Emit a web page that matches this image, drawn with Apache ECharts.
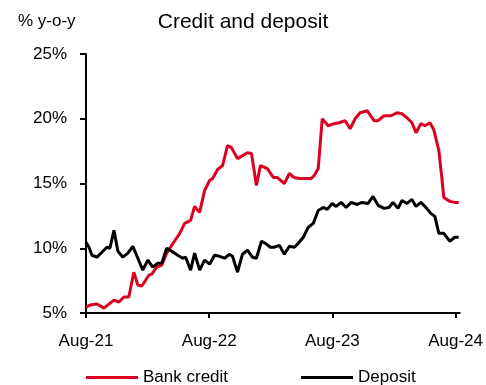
<!DOCTYPE html>
<html><head><meta charset="utf-8">
<script src="https://cdn.jsdelivr.net/npm/echarts@6/dist/echarts.min.js"></script>
<style>html,body{margin:0;padding:0;background:#fff}#c{width:486px;height:385px}</style>
</head><body><div id="c"></div>
<script>
// x = months since Aug-21
var tickLabels = {0:'Aug-21',12:'Aug-22',24:'Aug-23',36:'Aug-24'};
var creditX = [0,0.39,1.07,1.75,2.72,3.2,3.69,4.17,4.66,5.05,5.44,6.12,6.41,6.89,7.38,7.86,8.35,9.13,9.61,10.19,10.58,11.07,11.55,12.04,12.33,12.82,13.3,13.79,14.17,14.76,15.73,16.12,16.6,16.99,17.67,18.25,18.64,19.32,19.81,20.29,20.78,21.46,21.94,22.23,22.62,23.01,23.59,24.17,24.66,25.24,25.73,26.21,26.7,27.38,27.57,28.06,28.45,29.03,29.71,30.29,30.78,31.26,31.75,32.14,32.62,33.01,33.5,33.88,34.37,34.66,34.85,35.44,35.92,36.3];
var creditY = [5.46,5.62,5.69,5.38,6.0,5.85,6.23,6.23,8.15,7.15,7.08,7.92,8.0,8.54,8.69,9.62,10.23,11.15,11.92,12.15,13.23,12.77,14.46,15.23,15.38,16.08,16.38,17.92,17.77,16.92,17.38,17.31,14.85,16.38,16.15,15.46,15.46,15.0,15.77,15.46,15.38,15.38,15.38,15.62,16.15,20.0,19.46,19.62,19.69,19.85,19.23,20.0,20.46,20.62,20.69,19.85,19.85,20.23,20.23,20.46,20.38,20.08,19.69,18.92,19.62,19.46,19.69,19.15,17.54,15.46,13.92,13.62,13.54,13.54];
var depositX = [0,0.29,0.58,1.07,1.55,2.04,2.33,2.72,3.11,3.59,4.08,4.56,5.05,5.53,6.02,6.5,6.99,7.38,7.86,8.35,8.93,9.42,9.71,10.19,10.58,11.07,11.55,12.04,12.52,13.01,13.5,13.98,14.27,14.76,15.24,15.73,16.21,16.6,17.09,17.48,17.96,18.35,18.83,19.32,19.81,20.29,20.68,21.17,21.65,22.14,22.62,23.11,23.5,23.98,24.37,24.85,25.34,25.83,26.41,26.89,27.48,27.96,28.45,29.03,29.51,29.9,30.39,30.78,31.26,31.75,32.14,32.62,33.11,33.59,33.98,34.37,34.85,35.44,35.92,36.3];
var depositY = [10.46,10.08,9.46,9.31,9.69,10.08,10.0,11.38,9.77,9.31,9.62,10.15,9.23,8.31,9.08,8.54,8.85,8.85,10.0,9.77,9.46,9.23,9.31,8.31,9.62,8.31,9.08,8.77,9.46,9.38,9.23,9.54,9.38,8.15,9.54,9.85,9.31,9.23,10.54,10.38,10.08,10.08,10.23,9.54,10.15,10.08,10.38,10.85,11.62,11.92,12.92,13.15,13.0,13.46,13.23,13.54,13.15,13.54,13.38,13.54,13.46,14.0,13.31,13.08,13.15,13.54,13.08,13.69,13.46,13.77,13.23,13.54,13.15,12.69,12.46,11.15,11.15,10.54,10.85,10.85];
var yTicks = [5,10,15,20,25];

function zip(xs, ys){ return xs.map(function(x,i){ return [x, ys[i]]; }); }
var FONT = '"Liberation Sans", Arial, sans-serif';
var chart = echarts.init(document.getElementById('c'), null, {renderer:'canvas'});
chart.setOption({
  animation:false,
  backgroundColor:'#fff',
  title:[
    {text:'Credit and deposit', left:'center', top:7, textStyle:{fontFamily:FONT, fontSize:21, fontWeight:'normal', color:'#000'}},
    {text:'% y-o-y', left:13, top:8, textStyle:{fontFamily:FONT, fontSize:17, fontWeight:'normal', color:'#000'}}
  ],
  legend:{
    left:81, top:364, itemWidth:52, itemHeight:3, itemGap:73, icon:'rect', padding:5,
    textStyle:{fontFamily:FONT, fontSize:17, color:'#000'},
    data:['Bank credit','Deposit']
  },
  grid:{left:86, right:26, top:54, bottom:72, containLabel:false},
  xAxis:{
    type:'value', min:0, max:36.4, interval:12,
    axisLine:{lineStyle:{color:'#000', width:2}},
    axisTick:{show:true, inside:false, length:5, lineStyle:{color:'#000', width:2}},
    axisLabel:{fontFamily:FONT, fontSize:17, color:'#000', margin:20, showMaxLabel:false,
      formatter:function(v){ return tickLabels[v] || ''; }},
    splitLine:{show:false}
  },
  yAxis:{
    type:'value', min:5, max:25, interval:5,
    axisLine:{show:true, lineStyle:{color:'#000', width:2}},
    axisTick:{show:true, inside:false, length:6, lineStyle:{color:'#000', width:2}},
    axisLabel:{fontFamily:FONT, fontSize:17, color:'#000', margin:19,
      formatter:function(v){ return yTicks.indexOf(v) >= 0 ? v + '%' : ''; }},
    splitLine:{show:false}
  },
  series:[
    {name:'Bank credit', type:'line', data:zip(creditX, creditY), symbol:'none', smooth:false,
      lineStyle:{color:'#dc0020', width:3}, itemStyle:{color:'#dc0020'}},
    {name:'Deposit', type:'line', data:zip(depositX, depositY), symbol:'none', smooth:false,
      lineStyle:{color:'#000', width:3}, itemStyle:{color:'#000'}}
  ]
});
</script></body></html>
